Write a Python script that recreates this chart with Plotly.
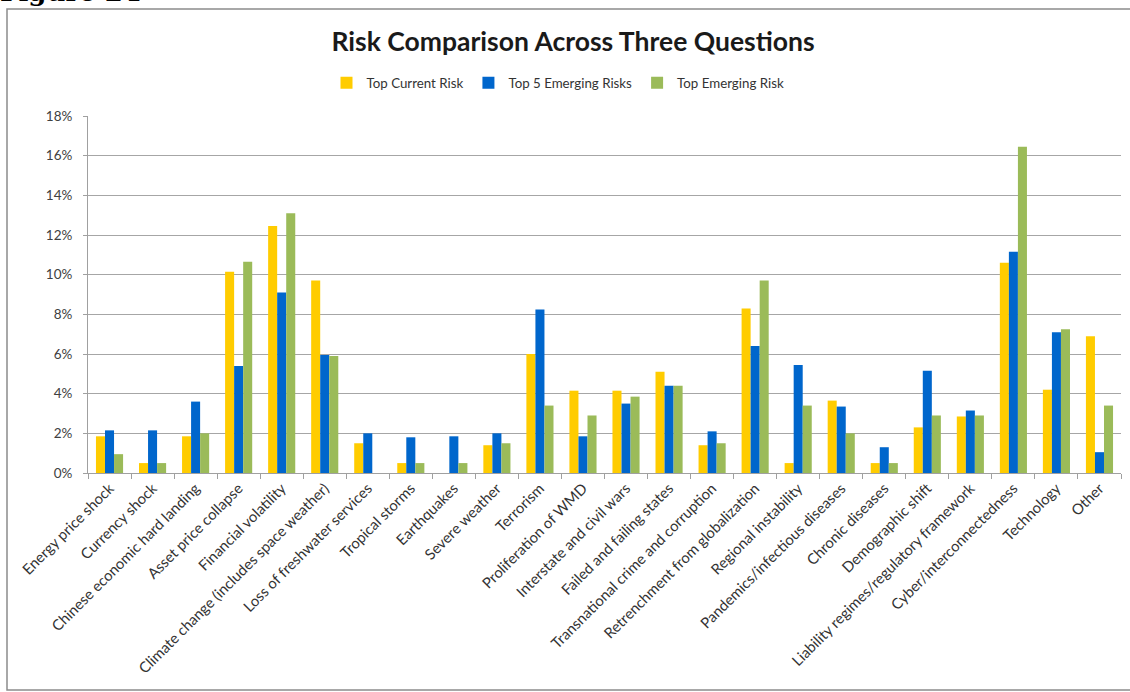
import plotly.graph_objects as go

categories = [
    "Energy price shock", "Currency shock", "Chinese economic hard landing",
    "Asset price collapse", "Financial volatility",
    "Climate change (includes space weather)", "Loss of freshwater services",
    "Tropical storms", "Earthquakes", "Severe weather", "Terrorism",
    "Proliferation of WMD", "Interstate and civil wars", "Failed and failing states",
    "Transnational crime and corruption", "Retrenchment from globalization",
    "Regional instability", "Pandemics/infectious diseases", "Chronic diseases",
    "Demographic shift", "Liability regimes/regulatory framework",
    "Cyber/interconnectedness", "Technology", "Other",
]

top_current = [1.85, 0.5, 1.85, 10.15, 12.45, 9.7, 1.5, 0.5, 0.0, 1.4, 6.0,
               4.15, 4.15, 5.1, 1.4, 8.3, 0.5, 3.65, 0.5, 2.3, 2.85, 10.6, 4.2, 6.9]
top5_emerging = [2.15, 2.15, 3.6, 5.4, 9.1, 5.95, 2.0, 1.8, 1.85, 2.0, 8.25,
                 1.85, 3.5, 4.4, 2.1, 6.4, 5.45, 3.35, 1.3, 5.15, 3.15, 11.15, 7.1, 1.05]
top_emerging = [0.95, 0.5, 2.0, 10.65, 13.1, 5.9, 0.0, 0.5, 0.5, 1.5, 3.4,
                2.9, 3.85, 4.4, 1.5, 9.7, 3.4, 2.0, 0.5, 2.9, 2.9, 16.45, 7.25, 3.4]

series_names = ["Top Current Risk", "Top 5 Emerging Risks", "Top Emerging Risk"]
series_values = [top_current, top5_emerging, top_emerging]
series_colors = ["#FFCC00", "#0066CC", "#9BBB59"]

y_ticks = [0, 2, 4, 6, 8, 10, 12, 14, 16, 18]
y_tick_labels = [f"{v}%" for v in y_ticks]

# pixel layout helpers
W, H = 1130, 692
ML, MR, MT, MB = 88, 9, 116, 219
pw = W - ML - MR
ph = H - MT - MB


def px_x(p):
    return (p - ML) / pw


def px_y(p):
    return (H - MB - p) / ph


fig = go.Figure()
for name, vals, col in zip(series_names, series_values, series_colors):
    fig.add_trace(go.Bar(x=categories, y=vals, name=name, marker_color=col,
                         marker_line_width=0))

fig.update_layout(
    width=W, height=H,
    margin=dict(l=ML, r=MR, t=MT, b=MB, autoexpand=False),
    paper_bgcolor="white", plot_bgcolor="white",
    barmode="group", bargap=0.37, bargroupgap=0,
    font=dict(family="Lato, Liberation Sans, sans-serif", color="#404040"),
    title=dict(text="<b>Risk Comparison Across Three Questions</b>",
               x=px_x(573), xref="paper", xanchor="center",
               y=1 - 42 / H, yanchor="middle",
               font=dict(size=26.5, color="#1a1a1a", family="Lato, sans-serif")),
    legend=dict(orientation="h", x=px_x(558), xanchor="center",
                y=px_y(83), yanchor="middle", font=dict(size=13.3, color="#333"),
                itemwidth=30, traceorder="normal", bgcolor="rgba(0,0,0,0)"),
    showlegend=True,
    xaxis=dict(type="category", tickangle=-45, showline=True, linecolor="#A0A0A0",
               linewidth=1, ticks="outside", tickson="boundaries", ticklen=5,
               tickcolor="#A0A0A0", tickfont=dict(size=14.8, color="#333"),
               showgrid=False, automargin=False),
    yaxis=dict(range=[0, 18], tickvals=y_ticks, ticktext=y_tick_labels,
               showgrid=True, gridcolor="#A6A6A6", gridwidth=1,
               showline=True, linecolor="#A0A0A0", linewidth=1,
               ticks="outside", ticklen=4, tickcolor="#A0A0A0",
               ticklabelstandoff=8,
               tickfont=dict(size=13.5, color="#404040"), zeroline=False,
               automargin=False),
    shapes=[dict(type="rect", xref="paper", yref="paper",
                 x0=px_x(7), x1=px_x(1140), y0=px_y(690), y1=px_y(9),
                 line=dict(color="#8C8C8C", width=1.5), fillcolor="rgba(0,0,0,0)",
                 layer="below")],
    annotations=[dict(text="<b>Figure 24</b>", xref="paper", yref="paper",
                      x=px_x(-2), xanchor="left", y=px_y(9), yanchor="bottom",
                      showarrow=False,
                      font=dict(size=26, color="black",
                                family="DejaVu Serif, Liberation Serif, serif"))],
)

fig.write_html("out.html", config={"displayModeBar": False},
               post_script="document.body.style.margin='0';document.body.style.overflow='hidden';")
